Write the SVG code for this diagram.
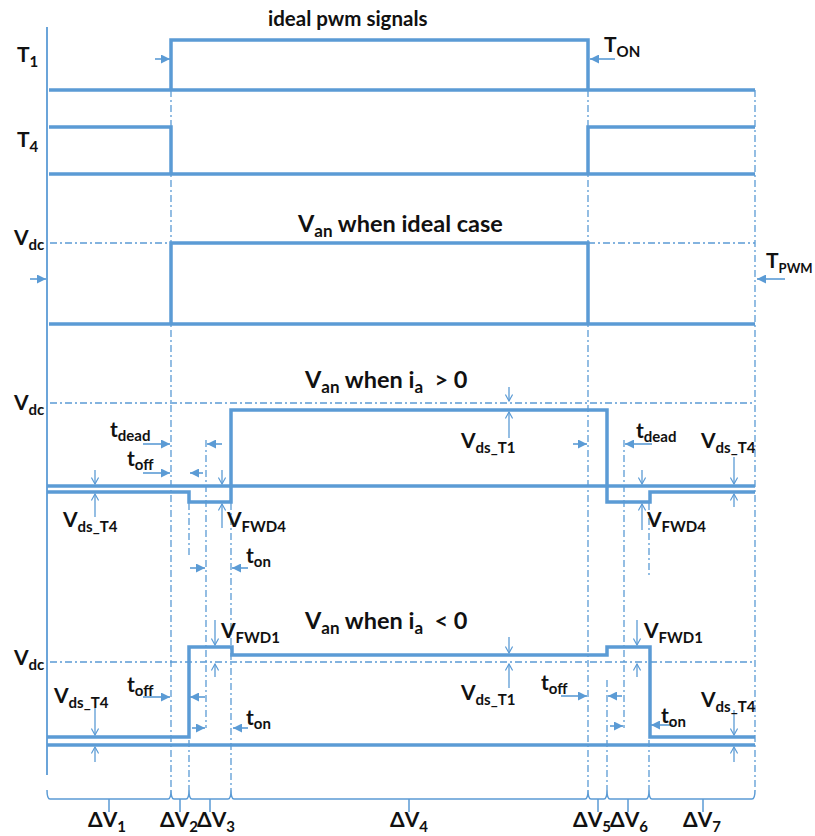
<svg xmlns="http://www.w3.org/2000/svg" width="815" height="836" viewBox="0 0 815 836">
<defs>
<marker id="ah" viewBox="0 0 10 10" refX="10" refY="5" markerWidth="9" markerHeight="9" markerUnits="userSpaceOnUse" orient="auto"><path d="M0,0 L10,5 L0,10 z" fill="#5B9BD5"/></marker>
<marker id="av" viewBox="0 0 10 10" refX="9" refY="5" markerWidth="8" markerHeight="8" markerUnits="userSpaceOnUse" orient="auto"><path d="M1,0.5 L9,5 L1,9.5" fill="none" stroke="#5B9BD5" stroke-width="1.5"/></marker>
</defs>
<style>
.w{fill:none;stroke:#5B9BD5;stroke-width:3.5;stroke-linejoin:miter}
.ax{fill:none;stroke:#5B9BD5;stroke-width:1.8}
.dd{fill:none;stroke:#5B9BD5;stroke-width:1.3;stroke-dasharray:7 3 2 3}
.af{fill:none;stroke:#5B9BD5;stroke-width:1.6;marker-end:url(#ah)}
.ao{fill:none;stroke:#5B9BD5;stroke-width:1.3;marker-end:url(#av)}
.br{fill:none;stroke:#5B9BD5;stroke-width:1.5}
text{font-family:Lato,"Liberation Sans",sans-serif;font-weight:bold;fill:#111;font-size:21px}
.ti{font-size:23.5px}
.t1{font-size:20.5px}
.s{font-size:15px}
.st{font-size:17px}
</style>
<rect width="815" height="836" fill="#fff"/>

<g id="grid">
<path class="dd" d="M171,90 V790 M588,90 V790 M755,90 V790"/>
<path class="dd" d="M206,440 V728 M624,440 V728"/>
<path class="dd" d="M189,503 V555 M189,740 V790 M231,503 V790 M649,503 V575 M649,740 V790 M607,680 V790"/>
<path class="dd" d="M50,243 H171 M588,243 H755 M50,403 H755 M50,662 H755"/>
<path class="ax" d="M47,27 V775"/>
</g>

<g id="connectors">
<path class="af" d="M155,59 H170"/>
<path class="af" d="M615,59 H590"/>
<path class="af" d="M30,279 H46"/>
<path class="af" d="M785,279 H757"/>
<path class="af" d="M143,444 H170"/>
<path class="af" d="M143,473 H170"/>
<path class="af" d="M222,444 H207"/>
<path class="af" d="M203,473 H190"/>
<path class="af" d="M190,568 H205"/>
<path class="af" d="M248,568 H232"/>
<path class="af" d="M573,444 H587"/>
<path class="af" d="M652,444 H625"/>
<path class="ao" d="M95,470 V484"/>
<path class="ao" d="M95,517 V494"/>
<path class="ao" d="M222,470 V484"/>
<path class="ao" d="M222,528 V504"/>
<path class="ao" d="M509,387 V401"/>
<path class="ao" d="M509,438 V412"/>
<path class="ao" d="M642,470 V484"/>
<path class="ao" d="M642,530 V504"/>
<path class="ao" d="M734,457 V484"/>
<path class="ao" d="M734,507 V494"/>
<path class="af" d="M143,697 H170"/>
<path class="af" d="M205,697 H190"/>
<path class="af" d="M192,728 H205"/>
<path class="af" d="M248,728 H233"/>
<path class="af" d="M561,696 H587"/>
<path class="af" d="M622,696 H608"/>
<path class="af" d="M610,726 H623"/>
<path class="af" d="M673,725 H651"/>
<path class="ao" d="M215,620 V645"/>
<path class="ao" d="M215,677 V664"/>
<path class="ao" d="M95,708 V735"/>
<path class="ao" d="M95,762 V747"/>
<path class="ao" d="M509,637 V653"/>
<path class="ao" d="M509,688 V664"/>
<path class="ao" d="M637,620 V645"/>
<path class="ao" d="M637,677 V664"/>
<path class="ao" d="M734,710 V735"/>
<path class="ao" d="M734,762 V747"/>
</g>

<g id="panel-t1">
<path class="w" d="M49,90 H755 M171,90 V40 H588 V90"/>
<text class="t1" x="268" y="26">ideal pwm signals</text>
<text x="17" y="62">T<tspan class="s" dy="5">1</tspan></text>
<text x="604" y="52">T<tspan class="s" dy="5">ON</tspan></text>
</g>

<g id="panel-t4">
<path class="w" d="M49,174 H755 M49,127 H171 V174 M588,174 V127 H755"/>
<text x="17" y="147">T<tspan class="s" dy="5">4</tspan></text>
</g>

<g id="panel-ideal">
<path class="w" d="M49,324 H755 M171,324 V243 H588 V324"/>
<text class="ti" x="298" y="232">V<tspan class="st" dy="5">an</tspan><tspan dy="-5"> when ideal case</tspan></text>
<text x="14" y="245">V<tspan class="s" dy="5">dc</tspan></text>
<text x="766" y="268">T<tspan class="s" dy="5" style="font-size:13px">PWM</tspan></text>
</g>

<g id="panel-pos">
<path class="w" d="M47,486 H755"/>
<path class="w" d="M47,492 H189 V502 H231 V410 H607 V502 H650 V492 H755"/>
<text class="ti" x="305" y="388">V<tspan class="st" dy="5">an</tspan><tspan dy="-5"> when i</tspan><tspan class="st" dy="5">a</tspan><tspan dy="-5" xml:space="preserve">  &gt; 0</tspan></text>
<text x="14" y="410">V<tspan class="s" dy="5">dc</tspan></text>
<text x="110" y="437">t<tspan class="s" dy="4">dead</tspan></text>
<text x="127" y="466">t<tspan class="s" dy="4">off</tspan></text>
<text x="63" y="527">V<tspan class="s" dy="5">ds_T4</tspan></text>
<text x="227" y="527">V<tspan class="s" dy="5">FWD4</tspan></text>
<text x="246" y="563">t<tspan class="s" dy="4">on</tspan></text>
<text x="461" y="448">V<tspan class="s" dy="5">ds_T1</tspan></text>
<text x="636" y="438">t<tspan class="s" dy="4">dead</tspan></text>
<text x="701" y="448">V<tspan class="s" dy="5">ds_T4</tspan></text>
<text x="647" y="527">V<tspan class="s" dy="5">FWD4</tspan></text>
</g>

<g id="panel-neg">
<path class="w" d="M47,745 H755"/>
<path class="w" d="M47,737 H189 V647 H232 V655 H607 V647 H650 V737 H755"/>
<text class="ti" x="305" y="629">V<tspan class="st" dy="5">an</tspan><tspan dy="-5"> when i</tspan><tspan class="st" dy="5">a</tspan><tspan dy="-5" xml:space="preserve">  &lt; 0</tspan></text>
<text x="14" y="665">V<tspan class="s" dy="5">dc</tspan></text>
<text x="221" y="638">V<tspan class="s" dy="5">FWD1</tspan></text>
<text x="127" y="692">t<tspan class="s" dy="4">off</tspan></text>
<text x="54" y="703">V<tspan class="s" dy="5">ds_T4</tspan></text>
<text x="246" y="725">t<tspan class="s" dy="4">on</tspan></text>
<text x="461" y="700">V<tspan class="s" dy="5">ds_T1</tspan></text>
<text x="541" y="690">t<tspan class="s" dy="4">off</tspan></text>
<text x="644" y="638">V<tspan class="s" dy="5">FWD1</tspan></text>
<text x="661" y="723">t<tspan class="s" dy="4">on</tspan></text>
<text x="701" y="707">V<tspan class="s" dy="5">ds_T4</tspan></text>
</g>

<g id="intervals">
<path class="br" d="M47,790 Q47,799 50,799 H168 Q171,799 171,790 M171,790 Q171,799 174,799 H186 Q189,799 189,790 M189,790 Q189,799 192,799 H228 Q231,799 231,790 M231,790 Q231,799 234,799 H585 Q588,799 588,790 M588,790 Q588,799 591,799 H604 Q607,799 607,790 M607,790 Q607,799 610,799 H646 Q649,799 649,790 M649,790 Q649,799 652,799 H752 Q755,799 755,790"/>
<path class="br" d="M109,799 V812 M180,799 V812 M210,799 V812 M409,799 V812 M598,799 V812 M628,799 V812 M703,799 V812"/>
<text x="88" y="827">ΔV<tspan class="s" dy="5">1</tspan></text>
<text x="160" y="827">ΔV<tspan class="s" dy="5">2</tspan></text>
<text x="197" y="827">ΔV<tspan class="s" dy="5">3</tspan></text>
<text x="390" y="827">ΔV<tspan class="s" dy="5">4</tspan></text>
<text x="573" y="827">ΔV<tspan class="s" dy="5">5</tspan></text>
<text x="610" y="827">ΔV<tspan class="s" dy="5">6</tspan></text>
<text x="683" y="827">ΔV<tspan class="s" dy="5">7</tspan></text>
</g>
</svg>
